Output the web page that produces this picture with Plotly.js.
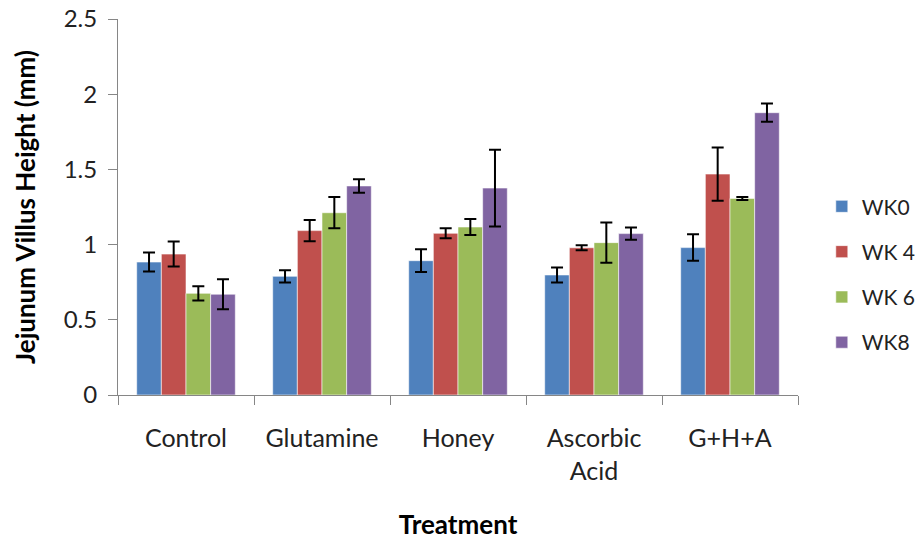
<!DOCTYPE html>
<html>
<head>
<meta charset="utf-8">
<script src="https://cdn.plot.ly/plotly-3.0.1.min.js"></script>
<style>html,body{margin:0;padding:0;background:#fff;}#chart{width:919px;height:540px;}</style>
</head>
<body>
<div id="chart"></div>
<script>
const categories = ["Control", "Glutamine", "Honey", "Ascorbic<br>Acid", "G+H+A"];
const seriesNames = ["WK0", "WK 4", "WK 6", "WK8"];
const wk0 = [0.884, 0.789, 0.893, 0.798, 0.980];
const wk4 = [0.937, 1.093, 1.075, 0.979, 1.469];
const wk6 = [0.676, 1.212, 1.117, 1.013, 1.307];
const wk8 = [0.670, 1.390, 1.376, 1.073, 1.877];
const err0 = [0.063, 0.041, 0.076, 0.050, 0.088];
const err4 = [0.083, 0.071, 0.033, 0.017, 0.177];
const err6 = [0.047, 0.104, 0.053, 0.134, 0.010];
const err8 = [0.100, 0.045, 0.255, 0.041, 0.061];
const colors = ["#4F81BD", "#C0504D", "#9BBB59", "#8064A2"];

const values = [wk0, wk4, wk6, wk8];
const errors = [err0, err4, err6, err8];
const font = "Lato, 'Open Sans', sans-serif";

const data = values.map((v, i) => ({
  type: "bar",
  name: seriesNames[i],
  legendgroup: "g" + i,
  x: categories,
  y: v,
  marker: {color: colors[i], line: {color: "rgba(255,255,255,0.7)", width: 0.8}},
  error_y: {type: "data", array: errors[i], visible: true, color: "#000", thickness: 2, width: 6}
}));

const layout = {
  width: 919, height: 540,
  margin: {l: 118, r: 121, t: 19, b: 145, autoexpand: false},
  paper_bgcolor: "#fff", plot_bgcolor: "#fff",
  barmode: "group", bargap: 0.275, bargroupgap: 0,
  font: {family: font, size: 24, color: "#000"},
  xaxis: {
    tickson: "boundaries", ticks: "outside", ticklen: 9, tickcolor: "#868686",
    showline: true, linecolor: "#868686", linewidth: 1, showgrid: false,
    tickfont: {family: font, size: 25, color: "#222"},
    ticklabelstandoff: 21,
    title: {text: "<b>Treatment</b>", font: {family: font, size: 26, color: "#000"}, standoff: 32}
  },
  yaxis: {
    range: [0, 2.5], dtick: 0.5, ticks: "outside", ticklen: 9, tickcolor: "#868686",
    showline: true, linecolor: "#868686", linewidth: 1, showgrid: false, zeroline: false,
    tickfont: {family: font, size: 24, color: "#222"},
    ticklabelstandoff: 6,
    title: {text: "<b>Jejunum Villus Height (mm)</b>", font: {family: font, size: 26, color: "#000"}, standoff: 20}
  },
  showlegend: true,
  legend: {x: 1.035, y: 0.32, xanchor: "left", yanchor: "middle", tracegroupgap: 15,
    font: {family: font, size: 21, color: "#222"}, bgcolor: "rgba(0,0,0,0)"}
};

Plotly.newPlot("chart", data, layout, {displayModeBar: false});
</script>
</body>
</html>
